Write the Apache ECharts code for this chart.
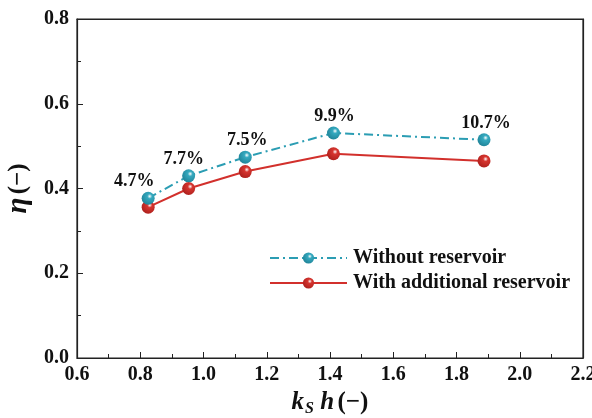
<!DOCTYPE html>
<html><head><meta charset="utf-8">
<script src="https://cdn.jsdelivr.net/npm/echarts@6/dist/echarts.min.js"></script>
<style>html,body{margin:0;padding:0;background:#fff}#c{width:592px;height:418px}</style>
</head><body><div id="c"></div>
<script>
const ksh = [0.825, 0.953, 1.132, 1.411, 1.887];
const etaWithout = [0.377, 0.430, 0.474, 0.531, 0.515];
const etaWith = [0.356, 0.400, 0.440, 0.482, 0.465];
const gainLabels = ['4.7%', '7.7%', '7.5%', '9.9%', '10.7%'];
const labelOffsets = [[-14, 0], [-5, 0], [2, 0], [1, 0], [2, 0]];
const seriesNames = ['Without reservoir', 'With additional reservoir'];

const F = '"Liberation Serif", "Times New Roman", serif';
function sphere(base, dark) {
  return new echarts.graphic.RadialGradient(0.62, 0.35, 0.75, [
    {offset: 0, color: '#ffffff'},
    {offset: 0.25, color: base},
    {offset: 1, color: dark}
  ]);
}
const blue = '#2b9db3', red = '#d2302c';
const frameAxis = {show: true, axisLine: {show: true, onZero: false, lineStyle: {color: '#222', width: 1.2}},
  axisTick: {show: false}, axisLabel: {show: false}, splitLine: {show: false}};

const chart = echarts.init(document.getElementById('c'), null, {renderer: 'canvas'});
chart.setOption({
  animation: false,
  backgroundColor: '#fff',
  grid: {left: 77, top: 19, right: 9, bottom: 60, outerBoundsMode: 'none', containLabel: false,
    show: true, borderColor: '#222', borderWidth: 1.2, backgroundColor: 'transparent'},
  legend: {
    left: 264, top: 243, orient: 'vertical', itemWidth: 77, itemHeight: 14, itemGap: 5,
    textStyle: {fontFamily: F, fontWeight: 'bold', fontSize: 20, color: '#111', padding: [0, 0, 0, 1]},
    data: seriesNames
  },
  xAxis: [{
    type: 'value', min: 0.6, max: 2.2, interval: 0.2,
    name: '{k|k}{s|S}{h| h} {p|(−)}', nameLocation: 'middle', nameGap: 27,
    nameTextStyle: {
      rich: {
        k: {fontFamily: F, fontWeight: 'bold', fontStyle: 'italic', fontSize: 25, color: '#111'},
        s: {fontFamily: F, fontWeight: 'bold', fontStyle: 'italic', fontSize: 16, color: '#111', padding: [13, 0, 0, 1]},
        h: {fontFamily: F, fontWeight: 'bold', fontStyle: 'italic', fontSize: 25, color: '#111'},
        p: {fontFamily: F, fontWeight: 'bold', fontSize: 25, color: '#111'}
      }
    },
    axisLine: {onZero: false, lineStyle: {color: '#222', width: 1.2}},
    axisTick: {inside: true, length: 6, lineStyle: {color: '#222'}},
    minorTick: {show: true, splitNumber: 2, length: 4, lineStyle: {color: '#222'}},
    splitLine: {show: false},
    axisLabel: {fontFamily: F, fontWeight: 'bold', fontSize: 20, color: '#111', margin: 7, formatter: v => v.toFixed(1)}
  }, Object.assign({type: 'value', position: 'top', min: 0.6, max: 2.2}, frameAxis)],
  yAxis: [{
    type: 'value', min: 0, max: 0.8, interval: 0.2,
    name: '{e|η} {p|(−)}', nameLocation: 'middle', nameGap: 42, nameRotate: 90,
    nameTextStyle: {
      rich: {
        e: {fontFamily: F, fontStyle: 'italic', fontWeight: 'bold', fontSize: 29, color: '#111'},
        p: {fontFamily: F, fontWeight: 'bold', fontSize: 25, color: '#111'}
      }
    },
    axisLine: {show: true, onZero: false, lineStyle: {color: '#222', width: 1.2}},
    axisTick: {inside: true, length: 6, lineStyle: {color: '#222'}},
    minorTick: {show: true, splitNumber: 2, length: 4, lineStyle: {color: '#222'}},
    splitLine: {show: false},
    axisLabel: {fontFamily: F, fontWeight: 'bold', fontSize: 20, color: '#111', margin: 8, formatter: v => v.toFixed(1)}
  }, Object.assign({type: 'value', position: 'right', min: 0, max: 0.8}, frameAxis)],
  series: [
    {
      name: seriesNames[0], type: 'line', symbol: 'circle', symbolSize: 13, z: 3,
      lineStyle: {color: blue, width: 2, type: [9, 4, 2, 4]},
      itemStyle: {color: sphere('#35a9bf', '#1d7f93'), borderWidth: 0},
      data: ksh.map((x, i) => ({
        value: [x, etaWithout[i]],
        label: {show: true, position: 'top', distance: 1, offset: labelOffsets[i], formatter: gainLabels[i],
          fontFamily: F, fontWeight: 'bold', fontSize: 18, color: '#111'}
      }))
    },
    {
      name: seriesNames[1], type: 'line', symbol: 'circle', symbolSize: 13, z: 2,
      lineStyle: {color: red, width: 2, type: 'solid'},
      itemStyle: {color: sphere('#d6352f', '#a81d1a'), borderWidth: 0},
      data: ksh.map((x, i) => [x, etaWith[i]])
    }
  ]
});
</script></body></html>
